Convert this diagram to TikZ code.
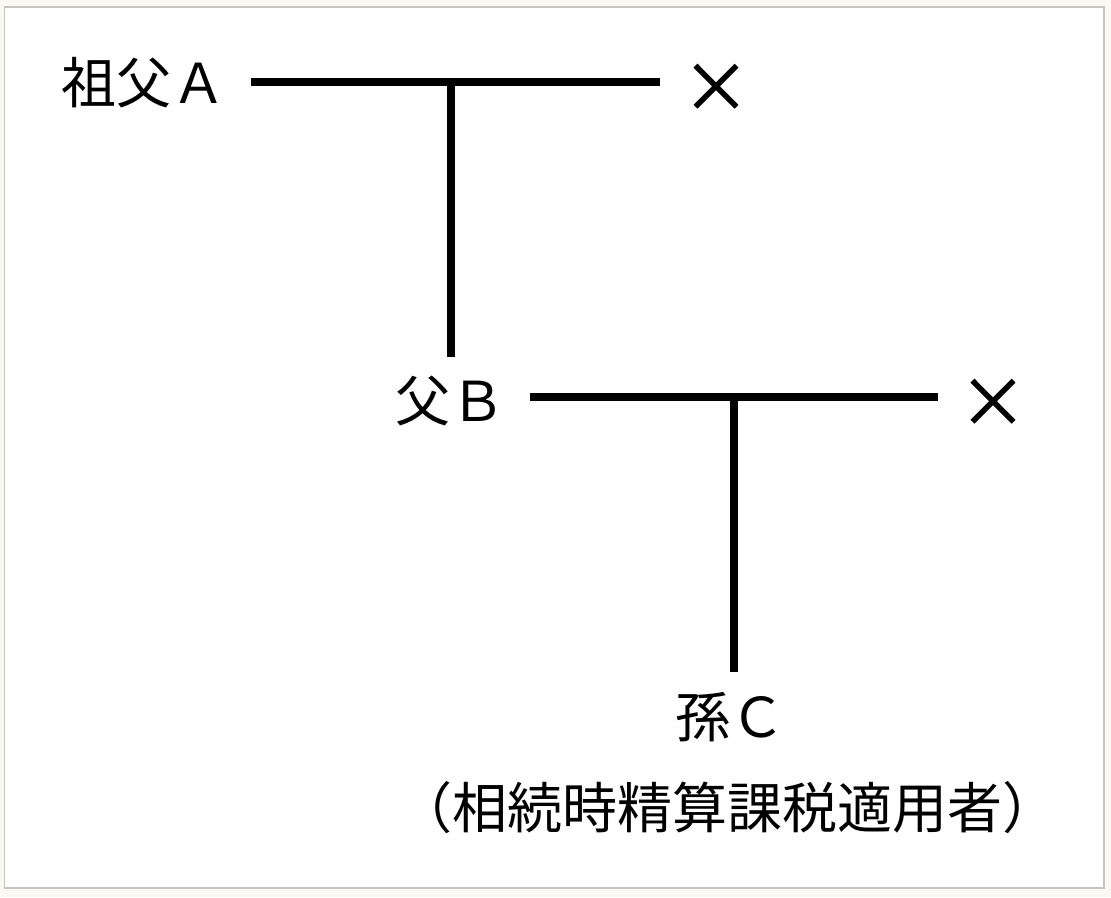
\documentclass[tikz,border=0pt]{standalone}
\usepackage{fontspec}
\newfontfamily\jpfont{Noto Sans CJK JP}
\newfontfamily\crossfont[FakeBold=1.2]{Noto Sans CJK JP}
\usetikzlibrary{positioning}
\definecolor{pagebg}{RGB}{250,248,243}
\definecolor{framegray}{RGB}{198,196,190}
\tikzset{
  treeline/.style={line width=8pt},
  person/.style={font=\jpfont\fontsize{55}{60}\selectfont, inner sep=0pt},
  cross/.style={font=\crossfont\fontsize{68}{70}\selectfont, inner sep=0pt}
}

\begin{document}
\begin{tikzpicture}[x=1pt,y=-1pt]
				\fill[pagebg] (0,0) rectangle (1111,897);
				\useasboundingbox (0,0) rectangle (1111,897);
				\draw[framegray,fill=white,line width=1.5pt] (4.5,7) rectangle (1104,888);
				% people
				\node[person,anchor=west] (ga) at (61,83) {祖父Ａ};
				\node[person,anchor=west] (fb) at (395,401) {父Ｂ};
				\node[person] (gc) at (730,717) {孫Ｃ};
				\node[person] (note) at (727,808) {（相続時精算課税適用者）};
				\node[cross] (xa) at (716,88) {×};
				\node[cross] (xb) at (993,403) {×};
				% lines
				\coordinate (a1) at (251,82);
				\coordinate (a2) at (660,82);
				\coordinate (ab) at (451,82);
				\coordinate (ae) at (451,357);
				\coordinate (b1) at (530,397);
				\coordinate (b2) at (938,397);
				\coordinate (bc) at (733.5,397);
				\coordinate (be) at (733.5,672);
				\draw[treeline] (a1) -- (a2);
				\draw[treeline] (ab) -- (ae);
				\draw[treeline] (b1) -- (b2);
				\draw[treeline] (bc) -- (be);
			\end{tikzpicture}
\end{document}
